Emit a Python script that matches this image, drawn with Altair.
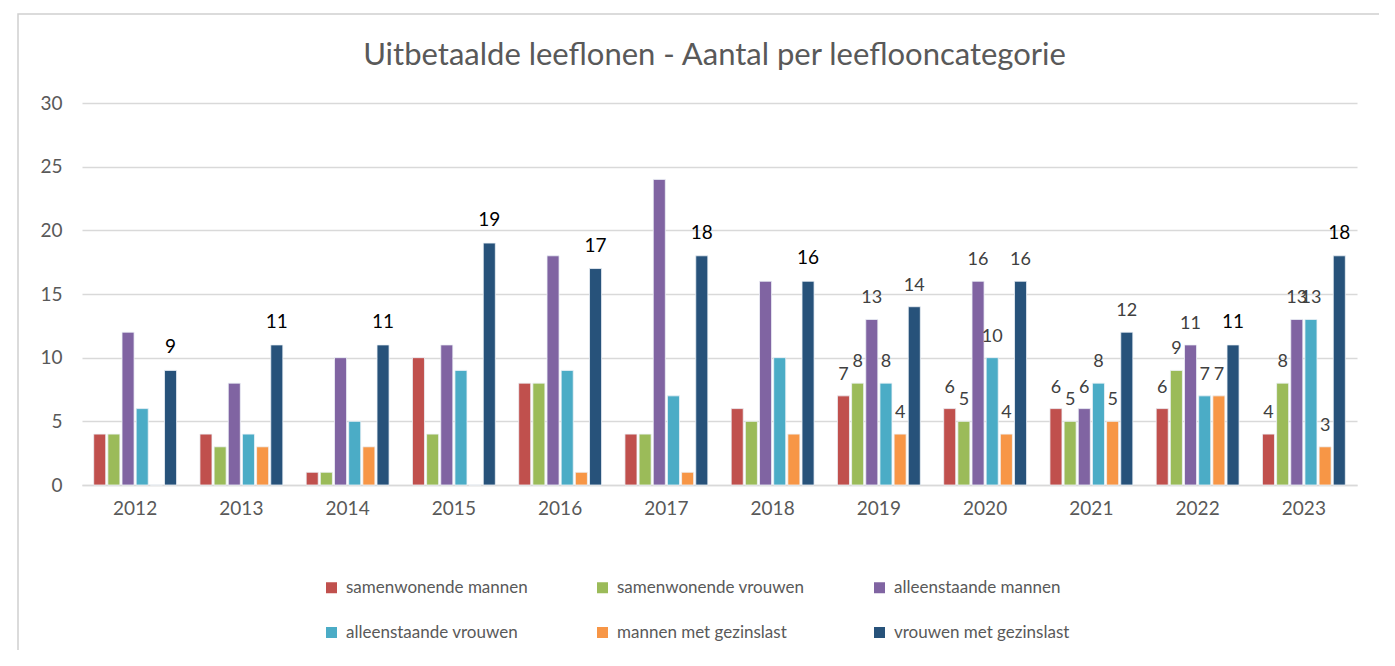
import altair as alt
import pandas as pd

years = ["2012", "2013", "2014", "2015", "2016", "2017", "2018", "2019", "2020", "2021", "2022", "2023"]
series = ["samenwonende mannen", "samenwonende vrouwen", "alleenstaande mannen",
          "alleenstaande vrouwen", "mannen met gezinslast", "vrouwen met gezinslast"]
colors = ["#C0504D", "#9BBB59", "#8064A2", "#4BACC6", "#F79646", "#27527A"]

samenwonende_mannen = [4, 4, 1, 10, 8, 4, 6, 7, 6, 6, 6, 4]
samenwonende_vrouwen = [4, 3, 1, 4, 8, 4, 5, 8, 5, 5, 9, 8]
alleenstaande_mannen = [12, 8, 10, 11, 18, 24, 16, 13, 16, 6, 11, 13]
alleenstaande_vrouwen = [6, 4, 5, 9, 9, 7, 10, 8, 10, 8, 7, 13]
mannen_met_gezinslast = [0, 3, 3, 0, 1, 1, 4, 4, 4, 5, 7, 3]
vrouwen_met_gezinslast = [9, 11, 11, 19, 17, 18, 16, 14, 16, 12, 11, 18]

# label style per year: "" = no label, "b" = large black, "g" = grey
labels_other = ["", "", "", "", "", "", "", "g", "g", "g", "g", "g"]
labels_vrouwen_gezin = ["b", "b", "b", "b", "b", "b", "b", "g", "g", "g", "b", "b"]

values = [samenwonende_mannen, samenwonende_vrouwen, alleenstaande_mannen,
          alleenstaande_vrouwen, mannen_met_gezinslast, vrouwen_met_gezinslast]
label_styles = [labels_other] * 5 + [labels_vrouwen_gezin]

rows = []
for si, s in enumerate(series):
    for yi, y in enumerate(years):
        rows.append({"jaar": y, "categorie": s, "aantal": values[si][yi],
                     "stijl": label_styles[si][yi], "volgorde": si})
df = pd.DataFrame(rows)

FONT = "Lato"
GREY = "#595959"

x_enc = alt.X("jaar:N", sort=years, title=None,
              scale=alt.Scale(paddingInner=0.2, paddingOuter=0.1),
              axis=alt.Axis(labelAngle=0, labelFontSize=19, labelColor=GREY, labelFont=FONT,
                            ticks=False, domainColor="#d9d9d9", domainWidth=1.5,
                            labelPadding=14, grid=False))
xoff = alt.XOffset("categorie:N", sort=series,
                   scale=alt.Scale(paddingInner=0.15, paddingOuter=0.075))
y_enc = alt.Y("aantal:Q", title=None,
              scale=alt.Scale(domain=[0, 30], nice=False),
              axis=alt.Axis(values=[0, 5, 10, 15, 20, 25, 30], labelFontSize=19, labelColor=GREY,
                            labelFont=FONT, ticks=False, domain=False, gridColor="#d9d9d9",
                            gridWidth=1.5, labelPadding=20))

base = alt.Chart(df)

bars = base.mark_bar(stroke="#eef2f7", strokeWidth=0.8).encode(
    x=x_enc, xOffset=xoff, y=y_enc,
    color=alt.Color("categorie:N", sort=series,
                    scale=alt.Scale(domain=series, range=colors),
                    legend=alt.Legend(title=None, orient="none", legendX=241, legendY=476,
                                      columns=3, direction="horizontal", gridAlign="each",
                                      columnPadding=66, rowPadding=27,
                                      symbolType="square", symbolSize=121, symbolStrokeWidth=0,
                                      labelFontSize=17, labelFont=FONT, labelColor=GREY,
                                      labelOffset=6, labelLimit=400)),
)

text_black = base.transform_filter(alt.datum.stijl == "b").mark_text(
    baseline="bottom", dy=-13, fontSize=19, font=FONT, color="#000000"
).encode(x=x_enc, xOffset=xoff, y=y_enc, text=alt.Text("aantal:Q"))

text_grey = base.transform_filter(alt.datum.stijl == "g").mark_text(
    baseline="bottom", dy=-12, fontSize=18, font=FONT, color="#404040"
).encode(x=x_enc, xOffset=xoff, y=y_enc, text=alt.Text("aantal:Q"))

frame_df = pd.DataFrame({"f": [1]})
frame = alt.Chart(frame_df).mark_rect(fill="transparent", stroke="#d0d0d0", strokeWidth=1.5).encode(
    x=alt.value(-64), x2=alt.value(1400), y=alt.value(-89), y2=alt.value(700)
)

chart = alt.layer(frame, bars, text_black, text_grey).properties(
    width=1275, height=382,
    title=alt.TitleParams("Uitbetaalde leeflonen - Aantal per leeflooncategorie",
                          fontSize=31, font=FONT, color=GREY, fontWeight="normal",
                          anchor="middle", offset=0, baseline="alphabetic", dy=83, dx=-5),
    autosize=alt.AutoSizeParams(type="none"),
    padding={"left": 74, "top": 95, "right": 22, "bottom": 165},
).configure_view(stroke=None)

chart.save("out.html", embed_options={"renderer": "svg", "actions": False})
